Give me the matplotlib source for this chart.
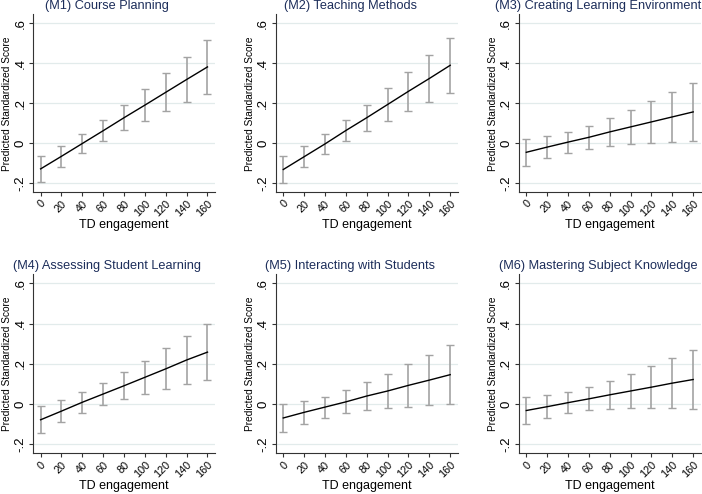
import matplotlib.pyplot as plt

plt.rcParams['font.family'] = ['Liberation Sans', 'DejaVu Sans']

# TD engagement levels
td = [0, 20, 40, 60, 80, 100, 120, 140, 160]

titles = ['(M1) Course Planning', '(M2) Teaching Methods',
          '(M3) Creating Learning Environment', '(M4) Assessing Student Learning',
          '(M5) Interacting with Students', '(M6) Mastering Subject Knowledge']

# predicted standardized scores
pred_m1 = [-0.128, -0.065, -0.001, 0.063, 0.128, 0.191, 0.255, 0.319, 0.382]
pred_m2 = [-0.131, -0.067, -0.003, 0.064, 0.128, 0.194, 0.260, 0.324, 0.390]
pred_m3 = [-0.045, -0.019, 0.006, 0.030, 0.057, 0.082, 0.107, 0.132, 0.157]
pred_m4 = [-0.078, -0.035, 0.009, 0.050, 0.091, 0.133, 0.175, 0.219, 0.258]
pred_m5 = [-0.069, -0.041, -0.015, 0.011, 0.040, 0.065, 0.093, 0.119, 0.146]
pred_m6 = [-0.032, -0.013, 0.007, 0.026, 0.046, 0.065, 0.084, 0.104, 0.122]

# confidence interval bounds
lo_m1 = [-0.192, -0.117, -0.050, 0.010, 0.065, 0.112, 0.160, 0.205, 0.248]
hi_m1 = [-0.063, -0.012, 0.048, 0.115, 0.190, 0.270, 0.350, 0.433, 0.515]
lo_m2 = [-0.198, -0.120, -0.052, 0.010, 0.063, 0.113, 0.162, 0.205, 0.252]
hi_m2 = [-0.063, -0.013, 0.047, 0.117, 0.193, 0.275, 0.358, 0.443, 0.528]
lo_m3 = [-0.113, -0.075, -0.047, -0.027, -0.012, -0.003, 0.003, 0.008, 0.013]
hi_m3 = [0.023, 0.037, 0.058, 0.087, 0.125, 0.167, 0.210, 0.255, 0.300]
lo_m4 = [-0.144, -0.089, -0.043, -0.005, 0.024, 0.052, 0.073, 0.100, 0.120]
hi_m4 = [-0.011, 0.020, 0.060, 0.105, 0.158, 0.214, 0.277, 0.338, 0.396]
lo_m5 = [-0.139, -0.097, -0.067, -0.046, -0.029, -0.021, -0.013, -0.006, -0.001]
hi_m5 = [0.002, 0.015, 0.037, 0.068, 0.108, 0.151, 0.198, 0.244, 0.292]
lo_m6 = [-0.101, -0.071, -0.046, -0.031, -0.023, -0.021, -0.021, -0.021, -0.023]
hi_m6 = [0.037, 0.045, 0.060, 0.083, 0.115, 0.151, 0.189, 0.229, 0.267]

preds = [pred_m1, pred_m2, pred_m3, pred_m4, pred_m5, pred_m6]
los = [lo_m1, lo_m2, lo_m3, lo_m4, lo_m5, lo_m6]
his = [hi_m1, hi_m2, hi_m3, hi_m4, hi_m5, hi_m6]

yticks = [-0.2, 0, 0.2, 0.4, 0.6]
ytick_labels = ['-.2', '0', '.2', '.4', '.6']

W, H = 702, 494
fig = plt.figure(figsize=(W / 100, H / 100), dpi=100)

col_left = [33.3, 276, 519]
row_top = [14.3, 274.2]
row_h = [178, 179.2]
ax_w = 181.5
title_x = [107, 350, 598]

for i in range(6):
    r, c = divmod(i, 3)
    left = col_left[c] / W
    bottom = (H - row_top[r] - row_h[r]) / H
    ax = fig.add_axes([left, bottom, ax_w / W, row_h[r] / H])

    yerr = [[p - l for p, l in zip(preds[i], los[i])],
            [h - p for p, h in zip(preds[i], his[i])]]
    ax.errorbar(td, preds[i], yerr=yerr, fmt='none', ecolor='#a3a3a3',
                elinewidth=1.2, capsize=2.6, capthick=1.0, zorder=2)
    ax.plot(td, preds[i], color='black', lw=1.0, zorder=3)

    ax.set_xlim(-7, 167)
    ax.set_ylim(-0.245, 0.645)
    ax.set_yticks(yticks)
    ax.set_yticklabels(ytick_labels, rotation=90, va='center', fontsize=9.5)
    ax.set_xticks(td)
    ax.set_xticklabels([str(v) for v in td], rotation=45, fontsize=7.8,
                       ha='right', rotation_mode='anchor')
    ax.grid(axis='y', color='#e2ebeb', lw=0.9)
    ax.set_axisbelow(True)
    for s in ['top', 'right']:
        ax.spines[s].set_visible(False)
    for s in ['left', 'bottom']:
        ax.spines[s].set_color('#333333')
        ax.spines[s].set_linewidth(0.8)
    ax.tick_params(axis='both', length=3, width=0.8, color='#333333', pad=2)
    ax.tick_params(axis='x', pad=1.5)
    ax.set_xlabel('TD engagement', fontsize=9, labelpad=0.5)
    ax.set_ylabel('Predicted Standardized Score', fontsize=7.3, labelpad=1.5)

    fig.text(title_x[c] / W, 1 - (row_top[r] - 8.5) / H, titles[i],
             ha='center', va='center', fontsize=9.2, color='#1c2d5a')

fig.savefig('out.png', dpi=100, facecolor='white')
